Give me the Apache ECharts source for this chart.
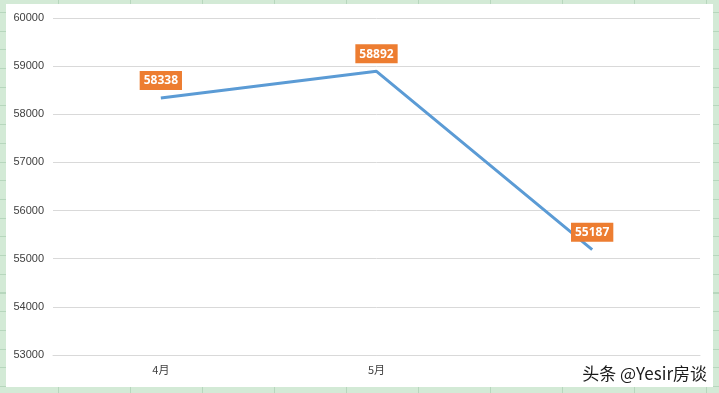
<!DOCTYPE html>
<html>
<head>
<meta charset="utf-8">
<script src="https://cdn.jsdelivr.net/npm/echarts@6/dist/echarts.min.js"></script>
<style>
html,body{margin:0;padding:0;width:719px;height:393px;overflow:hidden;}
body{
  background-color:#d3ead6;
  background-image:
    repeating-linear-gradient(to right, transparent 0px, transparent 58px, #b7d7bd 58px, #b7d7bd 59px, transparent 59px, transparent 72px),
    repeating-linear-gradient(to bottom, transparent 0px, transparent 12px, #b7d7bd 12px, #b7d7bd 13px, transparent 13px, transparent 18.7px);
}
#chart{position:absolute;left:6px;top:4px;width:707px;height:383px;background:#fff;}
</style>
</head>
<body>
<div id="chart"></div>
<script>
const categories = ['4月', '5月', ''];
const values = [58338, 58892, 55187];
const yMin = 53000, yMax = 60000, yStep = 1000;
const watermark = '头条 @Yesir房谈';

const chart = echarts.init(document.getElementById('chart'));
chart.setOption({
  backgroundColor: '#ffffff',
  animation: false,
  grid: { left: 47, right: 13, top: 14, bottom: 32 },
  xAxis: {
    type: 'category',
    data: categories,
    boundaryGap: true,
    axisLine: { show: true, lineStyle: { color: '#d9d9d9', width: 1 } },
    axisTick: { show: false },
    axisLabel: { color: '#404040', fontSize: 11, fontFamily: 'Noto Sans CJK SC', margin: 9 }
  },
  yAxis: {
    type: 'value',
    min: yMin, max: yMax, interval: yStep,
    axisLine: { show: false },
    axisTick: { show: false },
    splitLine: { lineStyle: { color: '#d9d9d9', width: 1 } },
    axisLabel: { color: '#404040', fontSize: 11, fontFamily: 'Liberation Sans', margin: 9, formatter: v => String(v) }
  },
  series: [{
    type: 'line',
    data: values,
    showSymbol: true,
    symbol: 'circle',
    symbolSize: 2,
    itemStyle: { color: 'rgba(91,155,213,0)', borderWidth: 0 },
    lineStyle: { color: '#5B9BD5', width: 3 },
    label: {
      show: true,
      position: 'top',
      distance: 7,
      color: '#ffffff',
      opacity: 1,
      fontWeight: 'bold',
      fontSize: 12,
      fontFamily: 'Open Sans',
      backgroundColor: '#ED7D31',
      padding: [4, 4, 3, 4],
      formatter: p => String(p.value)
    }
  }],
  graphic: [{
    type: 'text',
    right: 6,
    bottom: 5,
    style: {
      text: watermark,
      fill: '#1a1a1a',
      font: '17px "Noto Sans CJK SC"',
      textShadowColor: '#ffffff',
      textShadowBlur: 2
    }
  }]
});
</script>
</body>
</html>
